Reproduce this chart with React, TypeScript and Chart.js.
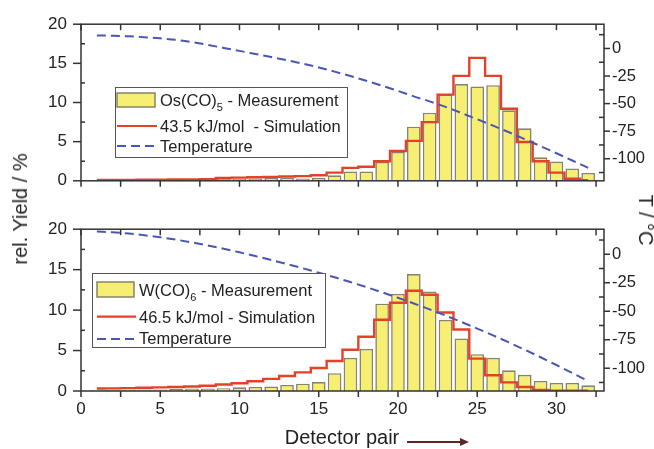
import React, { useEffect, useRef } from 'react';
import { Chart, registerables } from 'chart.js';

Chart.register(...registerables);

// ---------------- data ----------------
const detectorPairs = [1, 2, 3, 4, 5, 6, 7, 8, 9, 10, 11, 12, 13, 14, 15, 16, 17, 18, 19, 20, 21, 22, 23, 24, 25, 26, 27, 28, 29, 30, 31, 32];

// Os(CO)5 panel (top)
const osMeasurement = [0.05, 0.08, 0.05, 0.1, 0.1, 0.1, 0.12, 0.15, 0.25, 0.27, 0.3, 0.35, 0.4, 0.3, 0.35, 0.7, 1.2, 1.2, 2.4, 3.7, 6.9, 8.7, 11.0, 12.35, 12.05, 12.2, 9.0, 6.7, 3.0, 2.45, 1.57, 1.0];
const osSimulation = [0.1, 0.1, 0.12, 0.15, 0.15, 0.17, 0.18, 0.2, 0.35, 0.4, 0.45, 0.5, 0.55, 0.6, 0.7, 1.05, 1.65, 1.8, 2.5, 3.8, 5.1, 7.5, 11.0, 13.4, 15.7, 13.4, 9.2, 4.95, 2.5, 1.05, 0.27, 0.08];
const osTemperature = [11.8, 11.5, 11.0, 10.2, 9.2, 7.8, 5.8, 3.3, 0.5, -2.2, -5.0, -7.8, -10.7, -13.8, -17.2, -21.0, -25.0, -29.3, -33.8, -38.5, -43.4, -48.0, -53.0, -58.5, -64.2, -70.0, -76.0, -82.3, -88.6, -95.0, -101.6, -108.3];

// W(CO)6 panel (bottom)
const wMeasurement = [0.1, 0.15, 0.15, 0.2, 0.2, 0.25, 0.3, 0.3, 0.35, 0.45, 0.5, 0.56, 0.75, 0.9, 1.1, 2.2, 4.1, 5.2, 10.8, 12.0, 14.45, 12.3, 8.8, 6.5, 4.55, 4.1, 2.55, 2.0, 1.25, 1.0, 1.0, 0.7];
const wSimulation = [0.3, 0.33, 0.36, 0.4, 0.45, 0.5, 0.55, 0.65, 0.8, 0.95, 1.2, 1.5, 1.85, 2.3, 2.85, 3.7, 5.1, 6.7, 8.8, 10.9, 12.4, 11.9, 9.7, 7.6, 4.0, 1.95, 1.07, 0.5, 0.12, 0.05, 0.04, 0.03];
const wTemperature = [20.0, 19.3, 18.2, 16.7, 14.9, 12.8, 10.4, 7.7, 4.8, 1.7, -1.6, -5.0, -8.6, -12.3, -16.2, -20.2, -24.4, -28.8, -33.4, -38.2, -43.2, -48.4, -53.8, -59.4, -65.2, -71.2, -77.4, -83.8, -90.4, -97.2, -104.2, -111.3];

// ticks
const xTickValues = [0, 5, 10, 15, 20, 25, 30];
const xMinorTickValues = [2.5, 7.5, 12.5, 17.5, 22.5, 27.5, 32.5];
const yieldTickValues = [0, 5, 10, 15, 20];
const yieldMinorTickValues = [2.5, 7.5, 12.5, 17.5];
const tempTickValues = [-100, -75, -50, -25, 0];
const tempMinorTickValues = [-112.5, -87.5, -62.5, -37.5, -12.5, 12.5];

// legend texts
const osLegend = { name: 'Os(CO)', sub: '5', rest: ' - Measurement', sim: '43.5 kJ/mol  - Simulation', temp: 'Temperature' };
const wLegend = { name: 'W(CO)', sub: '6', rest: ' - Measurement', sim: '46.5 kJ/mol - Simulation', temp: 'Temperature' };

// ---------------- styles ----------------
const FONT = '"Liberation Sans", Arial, sans-serif';
const INK = '#222';
const FRAME = '#333';
const BAR_FILL = '#f6ef72';
const BAR_EDGE = '#87836c';
const RED = '#e5412a';
const BLUE = '#4b56b3';

type LegendLayout = {
  x: number; y: number; w: number; h: number;
  swX: number; swW: number; swTop: number; swH: number;
  textX: number; b1: number; b2: number; b3: number; lineY2: number; lineY3: number;
};

function makeDecor(legend: typeof osLegend, L: LegendLayout) {
  return {
    id: 'decor',
    afterDatasetsDraw(chart: any) {
      const { ctx, chartArea: a, scales } = chart;
      const x = scales.x, y = scales.y, t = scales.yT;
      ctx.save();
      ctx.strokeStyle = FRAME;
      ctx.lineWidth = 1.5;
      ctx.strokeRect(a.left, a.top, a.right - a.left, a.bottom - a.top);
      const seg = (x1: number, y1: number, x2: number, y2: number) => {
        ctx.beginPath(); ctx.moveTo(x1, y1); ctx.lineTo(x2, y2); ctx.stroke();
      };
      [...xTickValues, ...xMinorTickValues].forEach((v) => {
        const px = x.getPixelForValue(v);
        seg(px, a.top, px, a.top + 6);
        seg(px, a.bottom, px, a.bottom + 6);
      });
      yieldTickValues.forEach((v) => { const py = y.getPixelForValue(v); seg(a.left - 8, py, a.left, py); });
      yieldMinorTickValues.forEach((v) => { const py = y.getPixelForValue(v); seg(a.left, py, a.left + 4, py); });
      tempTickValues.forEach((v) => { const py = t.getPixelForValue(v); seg(a.right, py, a.right + 6, py); });
      tempMinorTickValues.forEach((v) => { const py = t.getPixelForValue(v); seg(a.right - 5, py, a.right, py); });

      // legend
      ctx.fillStyle = '#fff';
      ctx.fillRect(L.x, L.y, L.w, L.h);
      ctx.strokeStyle = '#555';
      ctx.lineWidth = 1;
      ctx.strokeRect(L.x + 0.5, L.y + 0.5, L.w, L.h);
      ctx.fillStyle = BAR_FILL;
      ctx.fillRect(L.swX, L.swTop, L.swW, L.swH);
      ctx.strokeStyle = BAR_EDGE;
      ctx.lineWidth = 1.5;
      ctx.strokeRect(L.swX, L.swTop, L.swW, L.swH);
      ctx.fillStyle = INK;
      ctx.textBaseline = 'alphabetic';
      ctx.textAlign = 'left';
      ctx.font = `16.5px ${FONT}`;
      ctx.fillText(legend.name, L.textX, L.b1);
      const w1 = ctx.measureText(legend.name).width;
      ctx.font = `11px ${FONT}`;
      ctx.fillText(legend.sub, L.textX + w1, L.b1 + 5);
      const w2 = ctx.measureText(legend.sub).width;
      ctx.font = `16.5px ${FONT}`;
      ctx.fillText(legend.rest, L.textX + w1 + w2, L.b1);
      ctx.fillText(legend.sim, L.textX, L.b2);
      ctx.fillText(legend.temp, L.textX, L.b3);
      ctx.strokeStyle = RED;
      ctx.lineWidth = 2.2;
      seg(L.swX, L.lineY2, L.swX + L.swW + 2, L.lineY2);
      ctx.strokeStyle = BLUE;
      ctx.setLineDash([9, 5]);
      seg(L.swX, L.lineY3, L.swX + L.swW + 2, L.lineY3);
      ctx.setLineDash([]);
      ctx.restore();
    },
  };
}

function buildChart(
  canvas: HTMLCanvasElement,
  meas: number[], sim: number[], temp: number[],
  showX: boolean, padTop: number, xHeight: number,
  legend: typeof osLegend, L: LegendLayout,
) {
  const pts = (arr: number[]) => detectorPairs.map((p, i) => ({ x: p, y: arr[i] }));
  return new Chart(canvas, {
    type: 'bar',
    data: {
      datasets: [
        {
          type: 'line', data: pts(temp), yAxisID: 'yT', borderColor: BLUE, borderWidth: 2,
          borderDash: [9, 5], pointRadius: 0, cubicInterpolationMode: 'monotone', fill: false, order: 1,
        } as any,
        {
          type: 'line', data: pts(sim), yAxisID: 'y', borderColor: RED, borderWidth: 2.4,
          stepped: 'middle', pointRadius: 0, fill: false, order: 2,
        } as any,
        {
          type: 'bar', data: pts(meas), yAxisID: 'y', backgroundColor: BAR_FILL, borderColor: BAR_EDGE,
          borderWidth: 1.6, categoryPercentage: 0.86, barPercentage: 1, order: 3,
        } as any,
      ],
    },
    options: {
      animation: false,
      responsive: false,
      maintainAspectRatio: false,
      layout: { padding: { top: padTop, left: 0, right: 0, bottom: 0 } },
      plugins: { legend: { display: false }, tooltip: { enabled: false } },
      scales: {
        x: {
          type: 'linear', min: 0, max: 33, offset: false,
          grid: { display: false, drawTicks: false, offset: false }, border: { display: false },
          ticks: { display: showX, font: { family: FONT, size: 17 }, color: INK, padding: 8, maxRotation: 0 },
          afterBuildTicks: (s: any) => { s.ticks = xTickValues.map((v) => ({ value: v })); },
          afterFit: (s: any) => { s.height = xHeight; },
        },
        y: {
          type: 'linear', position: 'left', min: 0, max: 20,
          grid: { display: false, drawTicks: false }, border: { display: false },
          ticks: { font: { family: FONT, size: 17 }, color: INK, padding: 14 },
          afterBuildTicks: (s: any) => { s.ticks = yieldTickValues.map((v) => ({ value: v })); },
          afterFit: (s: any) => { s.width = 81; },
        },
        yT: {
          type: 'linear', position: 'right', min: -120, max: 22,
          grid: { display: false, drawTicks: false }, border: { display: false },
          ticks: { font: { family: FONT, size: 16.5 }, color: INK, padding: 8 },
          afterBuildTicks: (s: any) => { s.ticks = tempTickValues.map((v) => ({ value: v })); },
          afterFit: (s: any) => { s.width = 50; },
        },
      },
    } as any,
    plugins: [makeDecor(legend, L)],
  });
}

const topLegendLayout: LegendLayout = {
  x: 115, y: 87, w: 232, h: 70,
  swX: 117, swW: 38, swTop: 93, swH: 14,
  textX: 160, b1: 106, b2: 132, b3: 152, lineY2: 126, lineY3: 146,
};
const bottomLegendLayout: LegendLayout = {
  x: 92, y: 68, w: 233, h: 74,
  swX: 97, swW: 37, swTop: 77, swH: 15,
  textX: 139, b1: 91, b2: 117.5, b3: 139, lineY2: 111.7, lineY3: 134,
};

export default function App() {
  const c1 = useRef<HTMLCanvasElement>(null);
  const c2 = useRef<HTMLCanvasElement>(null);

  useEffect(() => {
    const ch1 = buildChart(c1.current!, osMeasurement, osSimulation, osTemperature, false, 23, 11, osLegend, topLegendLayout);
    const ch2 = buildChart(c2.current!, wMeasurement, wSimulation, wTemperature, true, 14, 58, wLegend, bottomLegendLayout);
    return () => { ch1.destroy(); ch2.destroy(); };
  }, []);

  const text: React.CSSProperties = { position: 'absolute', whiteSpace: 'nowrap', color: INK, fontFamily: FONT, fontSize: 20, lineHeight: 1 };

  return (
    <div style={{ position: 'fixed', left: 0, top: 0, width: 654, height: 449, background: '#fff', overflow: 'hidden' }}>
      <canvas ref={c1} width={654} height={205} style={{ position: 'absolute', left: 0, top: 0, display: 'block' }} />
      <canvas ref={c2} width={654} height={244} style={{ position: 'absolute', left: 0, top: 205, display: 'block' }} />
      <div style={{ ...text, left: 20, top: 209, transform: 'translate(-50%, -50%) rotate(-90deg)' }}>rel. Yield / %</div>
      <div style={{ ...text, left: 646, top: 220, transform: 'translate(-50%, -50%) rotate(90deg)' }}>T / °C</div>
      <div style={{ ...text, left: 342, top: 437, transform: 'translate(-50%, -50%)' }}>Detector pair</div>
      <div style={{ position: 'absolute', left: 407, top: 441, width: 54, height: 1.5, background: '#5a2626' }} />
      <div style={{ position: 'absolute', left: 460, top: 438, width: 0, height: 0, borderTop: '4px solid transparent', borderBottom: '4px solid transparent', borderLeft: '9px solid #5a2626' }} />
    </div>
  );
}
